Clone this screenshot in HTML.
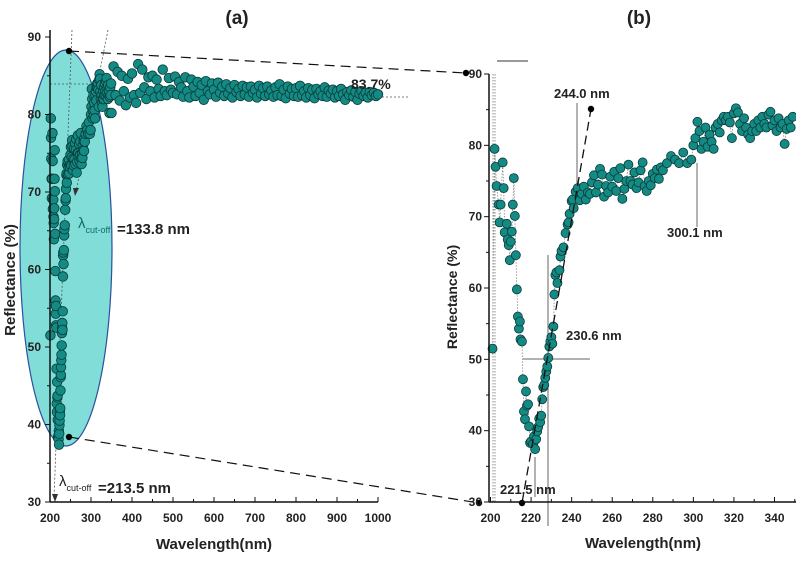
<!DOCTYPE html>
<html><head><meta charset="utf-8"><style>
html,body{margin:0;padding:0;background:#fff;}
svg{display:block;font-family:"Liberation Sans",sans-serif;}
.t{font-size:12px;font-weight:bold;fill:#222;}
</style></head><body>
<svg id="chart" width="796" height="580" viewBox="0 0 796 580" xmlns="http://www.w3.org/2000/svg">
<g id="g-a"></g>
<g id="g-b"></g>
</svg>
<script>
// Right panel (b) data: wavelength (nm) and reflectance (%)
const wlB = [201,202,202.5,203,204,204.5,205,206,206.5,207,208,208.5,209,209.5,210,210.5,211,211.5,212,212.5,213,213.5,214,214.5,214.8,215.5,216,216.5,217,217.5,218,218.5,219,219.5,220,221,221.5,222,222.5,223,223.5,224,224.5,225,225.5,226,226.5,227,227.5,228,228.5,229,229.5,230,230.5,231,231.5,232,232.5,233,234,234.5,235,236,237,238,238.5,239,240,240.5,241,242,243,244,245,246,247,248,249,250,251,252,253,254,255,256,257,258,259,260,261,262,263,264,265,266,267,268,269,270,271,272,273,274,275,276,277,278,279,280,281,282,283,284,285,287,289,291,293,295,297,299,300,301,302,303,304,305,306,307,308,309,310,311,312,313,314,315,316,317,318,319,320,321,322,323,324,325,326,327,328,329,330,331,332,333,334,335,336,337,338,339,340,341,342,343,344,345,346,347,348,349];
const reflB = [51.5,79.5,77,74.3,71.7,69.2,71.7,77.6,74,67.8,69,66.8,66,63.9,66.5,67.9,71.7,75.4,70.1,64.6,59.8,56,54.3,55.3,52.8,52.5,47.2,42.7,41.6,45.5,43.5,43.7,40.6,38.3,38.5,38.1,39.2,37.4,38.8,39.9,40.5,41.7,41.2,42.1,44.4,46.1,46.4,47.4,48.3,49,50.2,51.8,52.5,53.1,52.2,54.6,59.1,61.8,62.2,60.7,62.5,64.4,65.2,65.7,67.7,68.9,69.2,70.4,72.2,72.4,71.2,73.5,74,72.3,73.2,74.2,72.4,73.4,73.2,74.8,75.8,73.4,74.5,76.7,75.9,72.8,74.3,73.4,75.6,74.2,76.3,73.6,75.4,76.8,72.5,73.9,75,77.3,75,74.5,76.2,74,74.8,76.5,77.6,74.3,73.6,75,74.4,76,75.4,76.6,75.3,76.9,76.5,77.5,78.5,78,77.5,79,77.5,78,80,81,83.3,82,79.5,80.5,82.5,79.8,81.5,80.5,79.5,82.5,83,81.8,83.5,84,83.5,84,83.2,81,84.5,85.2,84.6,83,82,83.8,82.5,81.5,81,82,83,82,83.5,82.5,84,83,82.5,84.3,84.7,82.8,83.5,82,83.8,82.5,83,80.2,82.3,83.5,82.5,84];
// Panel (a) extra data beyond 350 nm (5 nm step)
const wlA = [350,355,360,365,370,375,380,385,390,395,400,405,410,415,420,425,430,435,440,445,450,455,460,465,470,475,480,485,490,495,500,505,510,515,520,525,530,535,540,545,550,555,560,565,570,575,580,585,590,595,600,605,610,615,620,625,630,635,640,645,650,655,660,665,670,675,680,685,690,695,700,705,710,715,720,725,730,735,740,745,750,755,760,765,770,775,780,785,790,795,800,805,810,815,820,825,830,835,840,845,850,855,860,865,870,875,880,885,890,895,900,905,910,915,920,925,930,935,940,945,950,955,960,965,970,975,980,985,990,995,1000];
const reflA = [80.2,86.2,82.5,85.5,81.8,85,83,81.2,84.6,82.2,85.3,82.5,81.5,86.5,82.8,85.8,83.5,82,84.8,83,85,82.2,84.5,83.3,82.4,85.8,83,82.5,84.7,83.2,82.8,84.9,82.6,84.2,83.5,82.3,84.8,83,82.2,84.5,83.6,82.4,84.2,82.8,83.8,81.9,84.3,83,82.6,84,83.2,82.3,84.1,82.8,83.6,82.4,83.9,82.7,83.4,82.2,83.8,82.9,83.3,82.4,83.7,82.6,83.5,82.3,83.6,82.8,83.2,82.2,83.7,82.7,83.4,82.4,83.6,82.6,83.1,82.3,83.5,82.5,83.9,82.4,83.2,82.1,83.6,82.7,83.3,82.4,83.4,82.3,83.7,82.5,83,82.2,83.4,82.5,83.2,82.1,83.3,82.6,83,82.4,83.5,82.3,83.1,82.7,83.2,82.2,83,82.4,83.3,82.6,81.9,82.9,82.5,83.1,82.3,82.9,81.9,82.7,83,82.4,82.8,82.2,82.9,82.5,82.8,82.4,82.6];
const xTicksA = [200,300,400,500,600,700,800,900,1000];
const yTicksA = [30,40,50,60,70,80,90];
const xTicksB = [200,220,240,260,280,300,320,340];
const yTicksB = [30,40,50,60,70,80,90];

const NS="http://www.w3.org/2000/svg";
function mk(tag,attrs,parent){const e=document.createElementNS(NS,tag);for(const k in attrs)e.setAttribute(k,attrs[k]);parent.appendChild(e);return e;}
const xA=v=>50+(v-200)*(328/800);
const yA=v=>502-(v-30)*(465/60);
const xB=v=>490.5+(v-200)*(284/140);
const yB=v=>502-(v-30)*(428/60);
const gA=document.getElementById('g-a'), gB=document.getElementById('g-b');

// ---------- Panel A ----------
let e;
e=mk('ellipse',{cx:66,cy:248,rx:46,ry:198,fill:'#80ddd7',stroke:'#2c4f9e','stroke-width':1.2},gA);


mk('line',{x1:72,y1:30,x2:54,y2:498,stroke:'#555','stroke-width':0.8,'stroke-dasharray':'2,2'},gA);
mk('line',{x1:108,y1:30,x2:76,y2:192,stroke:'#555','stroke-width':0.8,'stroke-dasharray':'2,2'},gA);
mk('line',{x1:50,y1:84,x2:100,y2:84,stroke:'#555','stroke-width':0.8,'stroke-dasharray':'2,2'},gA);
mk('line',{x1:378,y1:97,x2:408,y2:97,stroke:'#555','stroke-width':0.8,'stroke-dasharray':'2,2'},gA);
mk('path',{d:'M73,188 L79,188 L75,196 Z',fill:'#333'},gA);
mk('path',{d:'M52,494 L58,494 L55,502 Z',fill:'#333'},gA);
const allWA=wlB.concat(wlA), allRA=reflB.concat(reflA);
for(let i=0;i<allWA.length;i++){
  const c=mk('circle',{cx:xA(allWA[i]),cy:yA(allRA[i]),r:4.8,fill:'#148a85',stroke:'#093b37','stroke-width':0.8},gA);
  
  
}
mk('line',{x1:50,y1:30,x2:50,y2:502,stroke:'#111','stroke-width':1.5},gA);
mk('line',{x1:50,y1:502,x2:378,y2:502,stroke:'#111','stroke-width':1.5},gA);
for(const t of xTicksA){
  mk('line',{x1:xA(t),y1:502,x2:xA(t),y2:497,stroke:'#111'},gA);
  if(t<1000) mk('line',{x1:xA(t+50),y1:502,x2:xA(t+50),y2:499,stroke:'#111'},gA);
  const tx=mk('text',{x:xA(t),y:522,'text-anchor':'middle',class:'t'},gA);tx.textContent=t;
  
  
}
for(const t of yTicksA){
  mk('line',{x1:50,y1:yA(t),x2:45,y2:yA(t),stroke:'#111'},gA);
  if(t<90) mk('line',{x1:50,y1:yA(t+5),x2:47,y2:yA(t+5),stroke:'#111'},gA);
  const tx=mk('text',{x:41,y:yA(t)+4,'text-anchor':'end',class:'t'},gA);tx.textContent=t;
  
  
}
mk('line',{x1:69,y1:51,x2:466,y2:73,stroke:'#111','stroke-width':1.2,'stroke-dasharray':'10,6'},gA);
mk('line',{x1:69,y1:437,x2:479,y2:503,stroke:'#111','stroke-width':1.2,'stroke-dasharray':'10,6'},gA);
for(const p of [[69,51],[69,437],[466,73],[479,503]]) mk('circle',{cx:p[0],cy:p[1],r:3.2,fill:'#000'},gA);

// ---------- Panel B ----------
mk('line',{x1:493,y1:74,x2:493,y2:502,stroke:'#777','stroke-width':0.8,'stroke-dasharray':'1.5,1.5'},gB);
mk('line',{x1:495,y1:74,x2:495,y2:502,stroke:'#777','stroke-width':0.8,'stroke-dasharray':'1.5,1.5'},gB);
mk('line',{x1:497,y1:61,x2:528,y2:61,stroke:'#333','stroke-width':1},gB);
let pts='';for(let i=0;i<wlB.length;i++)pts+=xB(wlB[i])+','+yB(reflB[i])+' ';
mk('polyline',{points:pts,fill:'none',stroke:'#888','stroke-width':0.8,'stroke-dasharray':'1.5,1.5'},gB);
mk('line',{x1:548,y1:255,x2:548,y2:526,stroke:'#666','stroke-width':1},gB);
mk('line',{x1:523,y1:359,x2:590,y2:359,stroke:'#666','stroke-width':1},gB);
mk('line',{x1:535,y1:457,x2:535,y2:497,stroke:'#666','stroke-width':1},gB);
mk('line',{x1:577,y1:103,x2:577,y2:188,stroke:'#666','stroke-width':1},gB);
mk('line',{x1:697,y1:163,x2:697,y2:227,stroke:'#666','stroke-width':1},gB);
for(let i=0;i<wlB.length;i++){
  const c=mk('circle',{cx:xB(wlB[i]),cy:yB(reflB[i]),r:4.5,fill:'#148a85',stroke:'#093b37','stroke-width':0.8},gB);
  
  
}
mk('line',{x1:522,y1:503,x2:591,y2:109,stroke:'#111','stroke-width':1.3,'stroke-dasharray':'9,5'},gB);
mk('circle',{cx:522,cy:503,r:3.2,fill:'#000'},gB);
mk('circle',{cx:591,cy:109,r:3.2,fill:'#000'},gB);
mk('line',{x1:489,y1:74,x2:489,y2:502,stroke:'#111','stroke-width':1.5},gB);
mk('line',{x1:489,y1:502,x2:796,y2:502,stroke:'#111','stroke-width':1.5},gB);
for(const t of xTicksB){
  mk('line',{x1:xB(t),y1:502,x2:xB(t),y2:497,stroke:'#111'},gB);
  mk('line',{x1:xB(t+10),y1:502,x2:xB(t+10),y2:499,stroke:'#111'},gB);
  const tx=mk('text',{x:xB(t),y:522,'text-anchor':'middle',class:'t'},gB);tx.textContent=t;
  
  
}
for(const t of yTicksB){
  mk('line',{x1:489,y1:yB(t),x2:484,y2:yB(t),stroke:'#111'},gB);
  if(t<90) mk('line',{x1:489,y1:yB(t+5),x2:486,y2:yB(t+5),stroke:'#111'},gB);
  const tx=mk('text',{x:482,y:yB(t)+4,'text-anchor':'end',class:'t'},gB);tx.textContent=t;
  
  
}
</script>
<svg style="position:absolute;left:0;top:0" width="796" height="580" xmlns="http://www.w3.org/2000/svg" font-family="Liberation Sans, sans-serif" font-weight="bold" fill="#222">
<text x="237" y="24" text-anchor="middle" font-size="19">(a)</text>
<text x="639" y="24" text-anchor="middle" font-size="19">(b)</text>
<text x="214" y="549" text-anchor="middle" font-size="15">Wavelength(nm)</text>
<text x="643" y="548" text-anchor="middle" font-size="15">Wavelength(nm)</text>
<text transform="translate(15,280) rotate(-90)" text-anchor="middle" font-size="15">Reflectance (%)</text>
<text transform="translate(457,297) rotate(-90)" text-anchor="middle" font-size="14">Reflectance (%)</text>
<text x="351" y="89" font-size="14">83.7%</text>
<text x="78" y="228" font-size="15" font-weight="normal" fill="#0f6e6a">λ<tspan font-size="9" dy="5">cut-off</tspan></text>
<text x="117" y="234" font-size="15">=133.8 nm</text>
<text x="59" y="486" font-size="15" font-weight="normal">λ<tspan font-size="9" dy="5">cut-off</tspan></text>
<text x="98" y="493" font-size="15">=213.5 nm</text>
<text x="554" y="98" font-size="13">244.0 nm</text>
<text x="667" y="237" font-size="13">300.1 nm</text>
<text x="566" y="340" font-size="13">230.6 nm</text>
<text x="500" y="494" font-size="13">221.5 nm</text>
</svg>
</body></html>
